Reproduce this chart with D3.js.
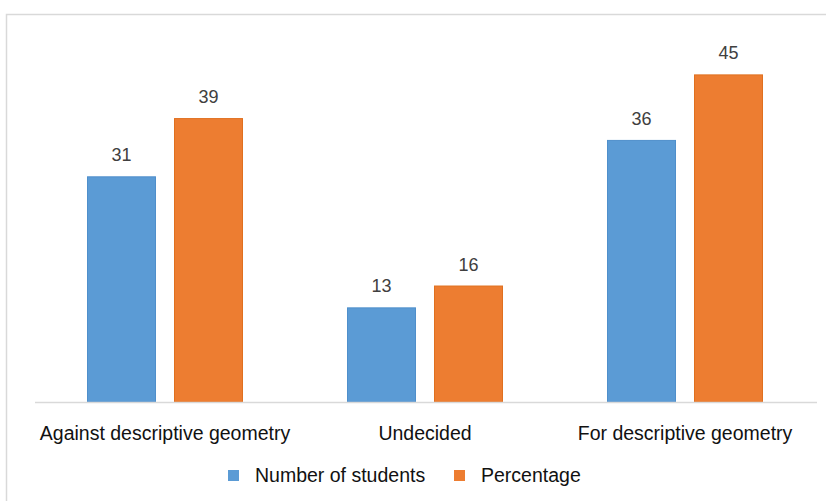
<!DOCTYPE html>
<html>
<head>
<meta charset="utf-8">
<script src="https://cdn.jsdelivr.net/npm/d3@7"></script>
<style>
  html, body { margin: 0; padding: 0; background: #fff; }
  svg { display: block; }
</style>
</head>
<body>
<svg id="chart" width="826" height="501"></svg>
<script>
const categories = ["Against descriptive geometry", "Undecided", "For descriptive geometry"];
const seriesNames = ["Number of students", "Percentage"];
const numberOfStudents = [31, 13, 36];
const percentage = [39, 16, 45];
const seriesColors = ["#5B9BD5", "#ED7D31"];
const seriesStrokes = ["#4F8FCB", "#E0701F"];

const svg = d3.select("#chart");
const W = 826, H = 501;

// outer frame
svg.append("rect")
  .attr("x", 6.5).attr("y", 14.5)
  .attr("width", W + 20).attr("height", H + 20)
  .attr("fill", "#fff").attr("stroke", "#d9d9d9").attr("stroke-width", 1.5);

const baseY = 402;
const x0 = d3.scaleBand().domain(categories).range([35, 815]).paddingInner(0.4).paddingOuter(0.2);
const x1 = d3.scaleBand().domain([0, 1]).range([0, x0.bandwidth()]).paddingInner(18 / 87).paddingOuter(0);
const y = d3.scaleLinear().domain([0, 50]).range([baseY, baseY - 50 * 7.28]);

const series = [numberOfStudents, percentage];
const data = [];
categories.forEach((c, i) => series.forEach((s, j) => data.push({ c, j, v: s[i] })));

const g = svg.append("g");
g.selectAll("rect.bar").data(data).join("rect")
  .attr("class", "bar")
  .attr("x", d => x0(d.c) + x1(d.j) + 0.5)
  .attr("y", d => y(d.v) + 0.5)
  .attr("width", x1.bandwidth() - 1)
  .attr("height", d => y(0) - y(d.v) - 0.5)
  .attr("fill", d => seriesColors[d.j])
  .attr("stroke", d => seriesStrokes[d.j])
  .attr("stroke-width", 1);

g.selectAll("text.val").data(data).join("text")
  .attr("class", "val")
  .attr("x", d => x0(d.c) + x1(d.j) + x1.bandwidth() / 2)
  .attr("y", d => y(d.v) - 15)
  .attr("text-anchor", "middle")
  .attr("font-family", "Liberation Sans, Arial, sans-serif")
  .attr("font-size", 18)
  .attr("fill", "#404040")
  .text(d => d.v);

// baseline axis
const axis = svg.append("g").attr("transform", `translate(0,${baseY})`)
  .call(d3.axisBottom(x0).tickSize(0).tickPadding(0));
axis.select(".domain").attr("stroke", "#d9d9d9").attr("stroke-width", 1.5)
  .attr("d", "M35,0.5H817");
axis.selectAll(".tick text")
  .attr("y", 38).attr("dy", 0)
  .attr("font-family", "Liberation Sans, Arial, sans-serif")
  .attr("font-size", 19.5)
  .attr("fill", "#111");

// legend
const legendItems = [
  { name: seriesNames[0], color: seriesColors[0], x: 228 },
  { name: seriesNames[1], color: seriesColors[1], x: 454 }
];
const lg = svg.append("g");
legendItems.forEach(it => {
  lg.append("rect").attr("x", it.x).attr("y", 470).attr("width", 11).attr("height", 11).attr("fill", it.color);
  lg.append("text").attr("x", it.x + 27).attr("y", 482)
    .attr("font-family", "Liberation Sans, Arial, sans-serif")
    .attr("font-size", 19.5).attr("fill", "#111")
    .text(it.name);
});
</script>
</body>
</html>
